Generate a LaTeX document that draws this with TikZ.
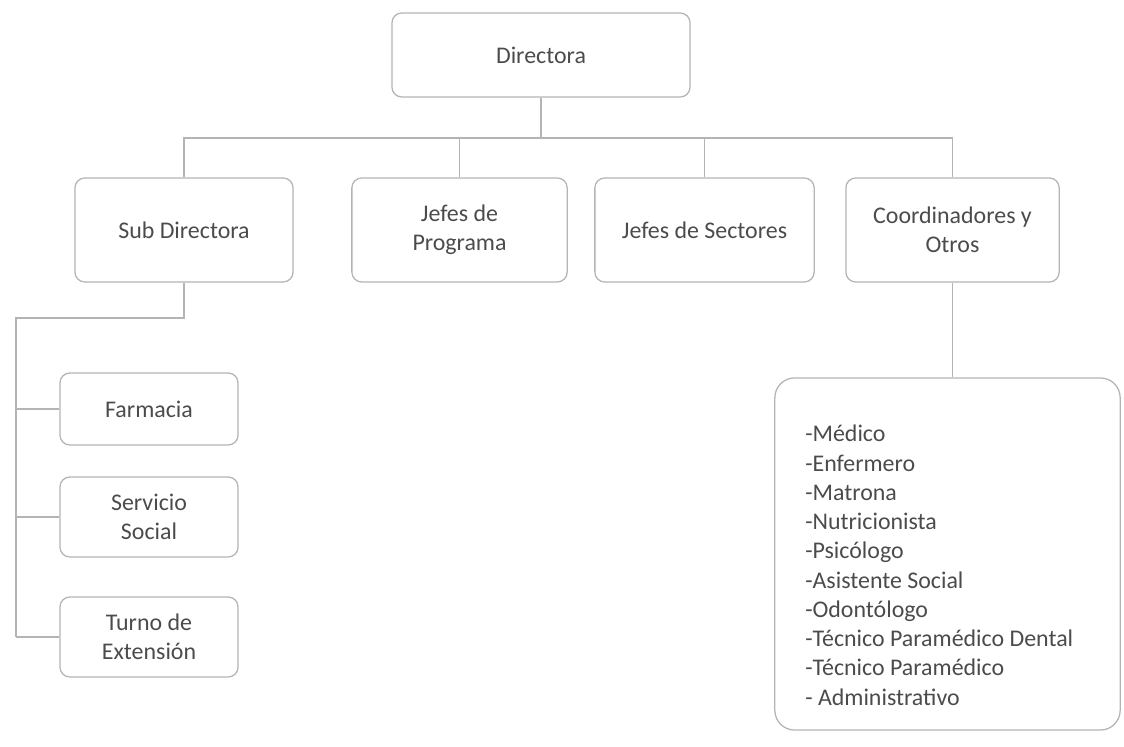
\documentclass[tikz,border=0pt]{standalone}
\usepackage{fontspec}
\setmainfont{Carlito}
\usepackage{xcolor}
\definecolor{linea}{RGB}{180,180,180}
\definecolor{texto}{RGB}{75,75,75}
\tikzset{cargo/.style={draw=linea, line width=0.9pt, rounded corners=7pt, align=center,
    text=texto, font=\fontsize{17}{20.8}\selectfont},
  puestos/.style={align=flush left, inner sep=0pt, text=texto, font=\fontsize{17}{20.8}\selectfont},
  conector/.style={draw=linea, line width=0.9pt}}

\begin{document}
\begin{tikzpicture}[x={(0.025cm,0)}, y={(0,-0.025cm)}]
\useasboundingbox (0,0) rectangle (1124,747);

%%% cargos

% direccion
\node[cargo, minimum width=7.45cm, minimum height=2.1cm] (dir) at (541,55) {Directora};

% segundo nivel
\node[cargo, minimum width=5.45cm, minimum height=2.6cm] (sub) at (184,230) {Sub Directora};
\node[cargo, minimum width=5.38cm, minimum height=2.6cm] (prog) at (459.5,230) {Jefes de\\Programa};
\node[cargo, minimum width=5.48cm, minimum height=2.6cm] (sect) at (704.5,230) {Jefes de Sectores};
\node[cargo, minimum width=5.33cm, minimum height=2.6cm] (coord) at (952.5,230) {Coordinadores y\\Otros};

% bajo sub directora
\node[cargo, minimum width=4.45cm, minimum height=1.8cm] (farm) at (149,409) {Farmacia};
\node[cargo, minimum width=4.45cm, minimum height=2cm] (serv) at (149,517) {Servicio\\Social};
\node[cargo, minimum width=4.45cm, minimum height=2cm] (turno) at (149,637) {Turno de\\Extensión};

% bajo coordinadores
\node[cargo, rounded corners=14pt, minimum width=8.63cm, minimum height=8.8cm] (lista) at (947.5,554) {};
\node[puestos, anchor=north west] (oficios) at (805,425)
  {-Médico\\-Enfermero\\-Matrona\\-Nutricionista\\-Psicólogo\\-Asistente Social\\
   -Odontólogo\\-Técnico Paramédico Dental\\-Técnico Paramédico\\- Administrativo};

%%% lineas

\coordinate (bus) at (541,138);
\draw[conector] (dir.south) -- (dir.south |- bus);
\draw[conector] (dir.south |- bus) -| (sub.north);
\draw[conector] (dir.south |- bus) -| (prog.north);
\draw[conector] (dir.south |- bus) -| (sect.north);
\draw[conector] (dir.south |- bus) -| (coord.north);

\coordinate (rama) at (16,318);
\draw[conector] (sub.south) |- (rama) -- (rama |- turno.west);
\draw[conector] (rama |- farm.west) -- (farm.west);
\draw[conector] (rama |- serv.west) -- (serv.west);
\draw[conector] (rama |- turno.west) -- (turno.west);

\draw[conector] (coord.south) -- (coord.south |- lista.north);
\end{tikzpicture}
\end{document}
